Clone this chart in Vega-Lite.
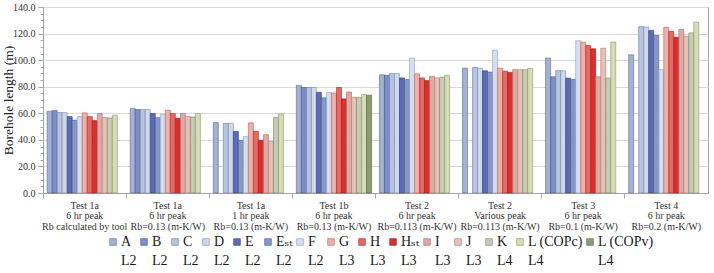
{
  "$schema": "https://vega.github.io/schema/vega-lite/v6.json",
  "width": 665,
  "height": 186,
  "autosize": {"type": "none"},
  "padding": {"left": 43, "top": 7, "right": 6, "bottom": 80},
  "background": "white",
  "config": {
    "view": {"stroke": "#a6a6a6", "strokeWidth": 1},
    "font": "'Liberation Serif', 'Times New Roman', 'DejaVu Serif', serif",
    "legend": {
      "columnPadding": 0,
      "labelOffset": 1,
      "symbolType": "square",
      "symbolSize": 44,
      "symbolStrokeWidth": 0.6,
      "labelFontSize": 14,
      "labelColor": "#1a1a1a",
      "labelLimit": 200
    }
  },
  "data": {
    "values": [
      {"test": "Test 1a|6 hr peak|Rb calculated by tool", "series": "A", "value": 61.5},
      {"test": "Test 1a|6 hr peak|Rb calculated by tool", "series": "B", "value": 62},
      {"test": "Test 1a|6 hr peak|Rb calculated by tool", "series": "C", "value": 60.5},
      {"test": "Test 1a|6 hr peak|Rb calculated by tool", "series": "D", "value": 60.5},
      {"test": "Test 1a|6 hr peak|Rb calculated by tool", "series": "E", "value": 57.5},
      {"test": "Test 1a|6 hr peak|Rb calculated by tool", "series": "Eₛₜ", "value": 54.8},
      {"test": "Test 1a|6 hr peak|Rb calculated by tool", "series": "F", "value": 57.5},
      {"test": "Test 1a|6 hr peak|Rb calculated by tool", "series": "G", "value": 60.3},
      {"test": "Test 1a|6 hr peak|Rb calculated by tool", "series": "H", "value": 57.5},
      {"test": "Test 1a|6 hr peak|Rb calculated by tool", "series": "Hₛₜ", "value": 54.5},
      {"test": "Test 1a|6 hr peak|Rb calculated by tool", "series": "I", "value": 59.8},
      {"test": "Test 1a|6 hr peak|Rb calculated by tool", "series": "J", "value": 56.8},
      {"test": "Test 1a|6 hr peak|Rb calculated by tool", "series": "K", "value": 56.5},
      {"test": "Test 1a|6 hr peak|Rb calculated by tool", "series": "L (COPc)", "value": 58.5},

      {"test": "Test 1a|6 hr peak|Rb=0.13 (m-K/W)", "series": "A", "value": 63.7},
      {"test": "Test 1a|6 hr peak|Rb=0.13 (m-K/W)", "series": "B", "value": 62.8},
      {"test": "Test 1a|6 hr peak|Rb=0.13 (m-K/W)", "series": "C", "value": 62.8},
      {"test": "Test 1a|6 hr peak|Rb=0.13 (m-K/W)", "series": "D", "value": 62.8},
      {"test": "Test 1a|6 hr peak|Rb=0.13 (m-K/W)", "series": "E", "value": 59.8},
      {"test": "Test 1a|6 hr peak|Rb=0.13 (m-K/W)", "series": "Eₛₜ", "value": 56.7},
      {"test": "Test 1a|6 hr peak|Rb=0.13 (m-K/W)", "series": "F", "value": 59.2},
      {"test": "Test 1a|6 hr peak|Rb=0.13 (m-K/W)", "series": "G", "value": 62.3},
      {"test": "Test 1a|6 hr peak|Rb=0.13 (m-K/W)", "series": "H", "value": 59.8},
      {"test": "Test 1a|6 hr peak|Rb=0.13 (m-K/W)", "series": "Hₛₜ", "value": 56.2},
      {"test": "Test 1a|6 hr peak|Rb=0.13 (m-K/W)", "series": "I", "value": 59.9},
      {"test": "Test 1a|6 hr peak|Rb=0.13 (m-K/W)", "series": "J", "value": 57.6},
      {"test": "Test 1a|6 hr peak|Rb=0.13 (m-K/W)", "series": "K", "value": 57.2},
      {"test": "Test 1a|6 hr peak|Rb=0.13 (m-K/W)", "series": "L (COPc)", "value": 59.8},

      {"test": "Test 1a|1 hr peak|Rb=0.13 (m-K/W)", "series": "A", "value": 53},
      {"test": "Test 1a|1 hr peak|Rb=0.13 (m-K/W)", "series": "C", "value": 52.5},
      {"test": "Test 1a|1 hr peak|Rb=0.13 (m-K/W)", "series": "D", "value": 52.5},
      {"test": "Test 1a|1 hr peak|Rb=0.13 (m-K/W)", "series": "E", "value": 46.4},
      {"test": "Test 1a|1 hr peak|Rb=0.13 (m-K/W)", "series": "Eₛₜ", "value": 39.6},
      {"test": "Test 1a|1 hr peak|Rb=0.13 (m-K/W)", "series": "F", "value": 42.6},
      {"test": "Test 1a|1 hr peak|Rb=0.13 (m-K/W)", "series": "G", "value": 52.8},
      {"test": "Test 1a|1 hr peak|Rb=0.13 (m-K/W)", "series": "H", "value": 46.4},
      {"test": "Test 1a|1 hr peak|Rb=0.13 (m-K/W)", "series": "Hₛₜ", "value": 39.6},
      {"test": "Test 1a|1 hr peak|Rb=0.13 (m-K/W)", "series": "I", "value": 43.9},
      {"test": "Test 1a|1 hr peak|Rb=0.13 (m-K/W)", "series": "J", "value": 38.8},
      {"test": "Test 1a|1 hr peak|Rb=0.13 (m-K/W)", "series": "K", "value": 57},
      {"test": "Test 1a|1 hr peak|Rb=0.13 (m-K/W)", "series": "L (COPc)", "value": 59.5},

      {"test": "Test 1b|6 hr peak|Rb=0.13 (m-K/W)", "series": "A", "value": 81},
      {"test": "Test 1b|6 hr peak|Rb=0.13 (m-K/W)", "series": "B", "value": 79.4},
      {"test": "Test 1b|6 hr peak|Rb=0.13 (m-K/W)", "series": "C", "value": 79.4},
      {"test": "Test 1b|6 hr peak|Rb=0.13 (m-K/W)", "series": "D", "value": 79.4},
      {"test": "Test 1b|6 hr peak|Rb=0.13 (m-K/W)", "series": "E", "value": 75.8},
      {"test": "Test 1b|6 hr peak|Rb=0.13 (m-K/W)", "series": "Eₛₜ", "value": 71.6},
      {"test": "Test 1b|6 hr peak|Rb=0.13 (m-K/W)", "series": "F", "value": 75.6},
      {"test": "Test 1b|6 hr peak|Rb=0.13 (m-K/W)", "series": "G", "value": 75.3},
      {"test": "Test 1b|6 hr peak|Rb=0.13 (m-K/W)", "series": "H", "value": 79.4},
      {"test": "Test 1b|6 hr peak|Rb=0.13 (m-K/W)", "series": "Hₛₜ", "value": 70.8},
      {"test": "Test 1b|6 hr peak|Rb=0.13 (m-K/W)", "series": "I", "value": 76},
      {"test": "Test 1b|6 hr peak|Rb=0.13 (m-K/W)", "series": "J", "value": 72},
      {"test": "Test 1b|6 hr peak|Rb=0.13 (m-K/W)", "series": "K", "value": 72},
      {"test": "Test 1b|6 hr peak|Rb=0.13 (m-K/W)", "series": "L (COPc)", "value": 74.3},
      {"test": "Test 1b|6 hr peak|Rb=0.13 (m-K/W)", "series": "L (COPv)", "value": 73.6},

      {"test": "Test 2|6 hr peak|Rb=0.113 (m-K/W)", "series": "A", "value": 89},
      {"test": "Test 2|6 hr peak|Rb=0.113 (m-K/W)", "series": "B", "value": 88.5},
      {"test": "Test 2|6 hr peak|Rb=0.113 (m-K/W)", "series": "C", "value": 89.9},
      {"test": "Test 2|6 hr peak|Rb=0.113 (m-K/W)", "series": "D", "value": 89.9},
      {"test": "Test 2|6 hr peak|Rb=0.113 (m-K/W)", "series": "E", "value": 86.6},
      {"test": "Test 2|6 hr peak|Rb=0.113 (m-K/W)", "series": "Eₛₜ", "value": 85.4},
      {"test": "Test 2|6 hr peak|Rb=0.113 (m-K/W)", "series": "F", "value": 101.6},
      {"test": "Test 2|6 hr peak|Rb=0.113 (m-K/W)", "series": "G", "value": 89.7},
      {"test": "Test 2|6 hr peak|Rb=0.113 (m-K/W)", "series": "H", "value": 86.6},
      {"test": "Test 2|6 hr peak|Rb=0.113 (m-K/W)", "series": "Hₛₜ", "value": 84.6},
      {"test": "Test 2|6 hr peak|Rb=0.113 (m-K/W)", "series": "I", "value": 87.8},
      {"test": "Test 2|6 hr peak|Rb=0.113 (m-K/W)", "series": "J", "value": 86.6},
      {"test": "Test 2|6 hr peak|Rb=0.113 (m-K/W)", "series": "K", "value": 87.2},
      {"test": "Test 2|6 hr peak|Rb=0.113 (m-K/W)", "series": "L (COPc)", "value": 88.6},

      {"test": "Test 2|Various peak|Rb=0.113 (m-K/W)", "series": "A", "value": 94},
      {"test": "Test 2|Various peak|Rb=0.113 (m-K/W)", "series": "C", "value": 94.5},
      {"test": "Test 2|Various peak|Rb=0.113 (m-K/W)", "series": "D", "value": 94},
      {"test": "Test 2|Various peak|Rb=0.113 (m-K/W)", "series": "E", "value": 92},
      {"test": "Test 2|Various peak|Rb=0.113 (m-K/W)", "series": "Eₛₜ", "value": 91},
      {"test": "Test 2|Various peak|Rb=0.113 (m-K/W)", "series": "F", "value": 107.5},
      {"test": "Test 2|Various peak|Rb=0.113 (m-K/W)", "series": "G", "value": 94},
      {"test": "Test 2|Various peak|Rb=0.113 (m-K/W)", "series": "H", "value": 91.7},
      {"test": "Test 2|Various peak|Rb=0.113 (m-K/W)", "series": "Hₛₜ", "value": 90.8},
      {"test": "Test 2|Various peak|Rb=0.113 (m-K/W)", "series": "I", "value": 92.8},
      {"test": "Test 2|Various peak|Rb=0.113 (m-K/W)", "series": "J", "value": 92.8},
      {"test": "Test 2|Various peak|Rb=0.113 (m-K/W)", "series": "K", "value": 92.8},
      {"test": "Test 2|Various peak|Rb=0.113 (m-K/W)", "series": "L (COPc)", "value": 93.8},

      {"test": "Test 3|6 hr peak|Rb=0.1 (m-K/W)", "series": "A", "value": 101.6},
      {"test": "Test 3|6 hr peak|Rb=0.1 (m-K/W)", "series": "B", "value": 87.5},
      {"test": "Test 3|6 hr peak|Rb=0.1 (m-K/W)", "series": "C", "value": 92},
      {"test": "Test 3|6 hr peak|Rb=0.1 (m-K/W)", "series": "D", "value": 92},
      {"test": "Test 3|6 hr peak|Rb=0.1 (m-K/W)", "series": "E", "value": 86.5},
      {"test": "Test 3|6 hr peak|Rb=0.1 (m-K/W)", "series": "Eₛₜ", "value": 85.5},
      {"test": "Test 3|6 hr peak|Rb=0.1 (m-K/W)", "series": "F", "value": 114.6},
      {"test": "Test 3|6 hr peak|Rb=0.1 (m-K/W)", "series": "G", "value": 113.6},
      {"test": "Test 3|6 hr peak|Rb=0.1 (m-K/W)", "series": "H", "value": 111},
      {"test": "Test 3|6 hr peak|Rb=0.1 (m-K/W)", "series": "Hₛₜ", "value": 108.6},
      {"test": "Test 3|6 hr peak|Rb=0.1 (m-K/W)", "series": "I", "value": 87.5},
      {"test": "Test 3|6 hr peak|Rb=0.1 (m-K/W)", "series": "J", "value": 109},
      {"test": "Test 3|6 hr peak|Rb=0.1 (m-K/W)", "series": "K", "value": 86.5},
      {"test": "Test 3|6 hr peak|Rb=0.1 (m-K/W)", "series": "L (COPc)", "value": 113.6},

      {"test": "Test 4|6 hr peak|Rb=0.2 (m-K/W)", "series": "A", "value": 104},
      {"test": "Test 4|6 hr peak|Rb=0.2 (m-K/W)", "series": "C", "value": 125.2},
      {"test": "Test 4|6 hr peak|Rb=0.2 (m-K/W)", "series": "D", "value": 125},
      {"test": "Test 4|6 hr peak|Rb=0.2 (m-K/W)", "series": "E", "value": 122.4},
      {"test": "Test 4|6 hr peak|Rb=0.2 (m-K/W)", "series": "Eₛₜ", "value": 118.6},
      {"test": "Test 4|6 hr peak|Rb=0.2 (m-K/W)", "series": "F", "value": 92.8},
      {"test": "Test 4|6 hr peak|Rb=0.2 (m-K/W)", "series": "G", "value": 124.7},
      {"test": "Test 4|6 hr peak|Rb=0.2 (m-K/W)", "series": "H", "value": 121.7},
      {"test": "Test 4|6 hr peak|Rb=0.2 (m-K/W)", "series": "Hₛₜ", "value": 117.2},
      {"test": "Test 4|6 hr peak|Rb=0.2 (m-K/W)", "series": "I", "value": 123},
      {"test": "Test 4|6 hr peak|Rb=0.2 (m-K/W)", "series": "J", "value": 118},
      {"test": "Test 4|6 hr peak|Rb=0.2 (m-K/W)", "series": "K", "value": 120.5},
      {"test": "Test 4|6 hr peak|Rb=0.2 (m-K/W)", "series": "L (COPc)", "value": 128.6}
    ]
  },
  "mark": {"type": "bar", "strokeWidth": 0.6},
  "encoding": {
    "x": {
      "field": "test",
      "type": "nominal",
      "sort": [
        "Test 1a|6 hr peak|Rb calculated by tool",
        "Test 1a|6 hr peak|Rb=0.13 (m-K/W)",
        "Test 1a|1 hr peak|Rb=0.13 (m-K/W)",
        "Test 1b|6 hr peak|Rb=0.13 (m-K/W)",
        "Test 2|6 hr peak|Rb=0.113 (m-K/W)",
        "Test 2|Various peak|Rb=0.113 (m-K/W)",
        "Test 3|6 hr peak|Rb=0.1 (m-K/W)",
        "Test 4|6 hr peak|Rb=0.2 (m-K/W)"
      ],
      "scale": {"paddingInner": 0.095, "paddingOuter": 0.05},
      "axis": {
        "title": null,
        "labelAngle": 0,
        "labelExpr": "split(datum.label, '|')",
        "labelFontSize": 10,
        "labelLineHeight": 10.5,
        "labelColor": "#333333",
        "labelPadding": 2,
        "labelLimit": 200,
        "bandPosition": -0.05,
        "tickSize": 5,
        "tickColor": "#a6a6a6",
        "domainColor": "#a6a6a6"
      }
    },
    "xOffset": {
      "field": "series",
      "type": "nominal",
      "scale": {
        "domain": ["A", "B", "C", "D", "E", "Eₛₜ", "F", "G", "H", "Hₛₜ", "I", "J", "K", "L (COPc)", "L (COPv)"],
        "paddingInner": 0,
        "paddingOuter": 0
      }
    },
    "y": {
      "field": "value",
      "type": "quantitative",
      "scale": {"domain": [0, 140], "nice": false},
      "axis": {
        "title": "Borehole length (m)",
        "titleFontSize": 13.5,
        "titleFontWeight": "normal",
        "titleColor": "#222222",
        "titleX": -35,
        "titleBaseline": "middle",
        "values": [0, 5, 10, 15, 20, 25, 30, 35, 40, 45, 50, 55, 60, 65, 70, 75, 80, 85, 90, 95, 100, 105, 110, 115, 120, 125, 130, 135, 140],
        "labelExpr": "datum.value % 20 === 0 ? format(datum.value, '.1f') : ''",
        "labelFontSize": 10,
        "labelColor": "#333333",
        "labelPadding": 3,
        "tickColor": "#a6a6a6",
        "tickSize": {"condition": {"test": "datum.value % 20 === 0", "value": 5}, "value": 3},
        "domainColor": "#a6a6a6",
        "grid": true,
        "gridColor": {"condition": {"test": "datum.value % 20 === 0 && datum.value > 0", "value": "#d9d9d9"}, "value": "transparent"},
        "gridWidth": 1.2
      }
    },
    "fill": {
      "field": "series",
      "type": "nominal",
      "scale": {
        "domain": ["A", "B", "C", "D", "E", "Eₛₜ", "F", "G", "H", "Hₛₜ", "I", "J", "K", "L (COPc)", "L (COPv)"],
        "range": ["#a3b2d1", "#7d8fcb", "#b7c4e0", "#cfd9ec", "#5d6cb0", "#8797c8", "#d3def0", "#eab2a8", "#e46a66", "#d9302c", "#deaaa6", "#e6c0b6", "#c6ccb4", "#d6dcb4", "#8e9c74"]
      },
      "legend": {
        "title": null,
        "orient": "none",
        "legendX": 63,
        "legendY": 228,
        "direction": "horizontal",
        "columns": 15,
        "columnPadding": 0,
        "labelBaseline": "middle",
        "labelExpr": "[datum.label, indexof(['G', 'H', 'Hₛₜ', 'I', 'J'], datum.label) >= 0 ? 'L3' : (datum.label === 'K' || datum.label === 'L (COPc)' || datum.label === 'L (COPv)') ? 'L4' : 'L2']",
        "encode": {"labels": {"update": {"lineHeight": {"value": 19}}}}
      }
    },
    "stroke": {
      "field": "series",
      "type": "nominal",
      "scale": {
        "domain": ["A", "B", "C", "D", "E", "Eₛₜ", "F", "G", "H", "Hₛₜ", "I", "J", "K", "L (COPc)", "L (COPv)"],
        "range": ["#5a6a90", "#3f4f95", "#6a7aa0", "#7a8ab0", "#2f3c80", "#4a5a90", "#8a9ac0", "#c0605a", "#b02020", "#a01818", "#a86a66", "#b07a70", "#7a8468", "#8a946a", "#56623e"]
      },
      "legend": {
        "title": null,
        "orient": "none",
        "legendX": 63,
        "legendY": 228,
        "direction": "horizontal",
        "columns": 15,
        "columnPadding": 0,
        "labelBaseline": "middle",
        "labelExpr": "[datum.label, indexof(['G', 'H', 'Hₛₜ', 'I', 'J'], datum.label) >= 0 ? 'L3' : (datum.label === 'K' || datum.label === 'L (COPc)' || datum.label === 'L (COPv)') ? 'L4' : 'L2']",
        "encode": {"labels": {"update": {"lineHeight": {"value": 19}}}}
      }
    }
  }
}
